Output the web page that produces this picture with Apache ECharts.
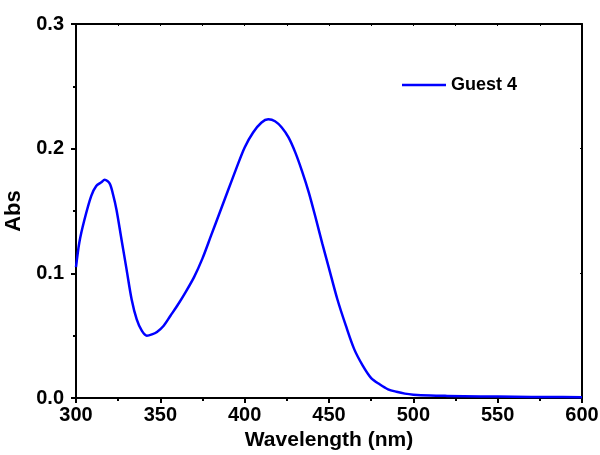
<!DOCTYPE html>
<html>
<head>
<meta charset="utf-8">
<script src="https://cdn.jsdelivr.net/npm/echarts@6/dist/echarts.min.js"></script>
<style>html,body{margin:0;padding:0;background:#fff}#c{width:600px;height:455px}</style>
</head>
<body>
<div id="c"></div>
<script>
var seriesName = 'Guest 4';
var wavelengths = [300,302,305,309,312,315,317,320,322,324,327,330,333,336,339,342,345,348,352,356,360,365,370,375,380,385,390,395,400,405,410,414,418,422,426,430,434,438,442,446,450,455,460,465,470,475,480,485,490,495,500,510,520,540,560,580,600];
var absorbance = [0.105,0.125,0.143,0.162,0.170,0.173,0.175,0.172,0.163,0.151,0.127,0.103,0.079,0.063,0.054,0.050,0.051,0.053,0.058,0.066,0.074,0.085,0.097,0.112,0.130,0.148,0.166,0.184,0.201,0.213,0.221,0.2235,0.222,0.217,0.209,0.197,0.182,0.165,0.145,0.124,0.104,0.079,0.058,0.039,0.026,0.016,0.011,0.007,0.005,0.0035,0.0027,0.002,0.0017,0.0013,0.001,0.0008,0.0006];
var xTicks = [300,350,400,450,500,550,600];
var yTicks = [0.0,0.1,0.2,0.3];

var data = wavelengths.map(function(w,i){return [w, absorbance[i]];});
var font = 'Liberation Sans, Arial, sans-serif';
var chart = echarts.init(document.getElementById('c'), null, {renderer:'canvas'});
var axisLine = {show:true, onZero:false, lineStyle:{color:'#000', width:2}};
chart.setOption({
  animation:false,
  grid:{left:76, right:18, top:24, bottom:57, containLabel:false, outerBoundsMode:'none'},
  legend:{
    data:[seriesName], left:397, top:71, icon:'rect', itemWidth:44, itemHeight:2.5, itemGap:0,
    textStyle:{fontFamily:font, fontWeight:'bold', fontSize:18, color:'#000'}
  },
  xAxis:[{
    type:'value', min:xTicks[0], max:xTicks[xTicks.length-1], interval:50,
    name:'Wavelength (nm)', nameLocation:'middle', nameGap:30,
    nameTextStyle:{fontFamily:font, fontWeight:'bold', fontSize:21, color:'#000'},
    axisLine:axisLine,
    axisTick:{show:true, inside:false, length:5, lineStyle:{color:'#000', width:2}},
    minorTick:{show:true, splitNumber:2, length:3, lineStyle:{color:'#000', width:2}},
    splitLine:{show:false},
    axisLabel:{fontFamily:font, fontWeight:'bold', fontSize:20, color:'#000', margin:7}
  },{
    type:'value', position:'top', min:xTicks[0], max:xTicks[xTicks.length-1], interval:50,
    axisLine:axisLine,
    axisTick:{show:true, inside:true, length:2, lineStyle:{color:'#000', width:1}},
    minorTick:{show:true, splitNumber:2, length:2, lineStyle:{color:'#000', width:1}},
    splitLine:{show:false}, axisLabel:{show:false}
  }],
  yAxis:[{
    type:'value', min:yTicks[0], max:yTicks[yTicks.length-1], interval:0.1,
    name:'Abs', nameLocation:'middle', nameGap:42, nameRotate:90,
    nameTextStyle:{fontFamily:font, fontWeight:'bold', fontSize:22, color:'#000'},
    axisLine:axisLine,
    axisTick:{show:true, inside:false, length:5, lineStyle:{color:'#000', width:2}},
    minorTick:{show:true, splitNumber:2, length:3, lineStyle:{color:'#000', width:2}},
    splitLine:{show:false},
    axisLabel:{fontFamily:font, fontWeight:'bold', fontSize:20, color:'#000', margin:12,
      formatter:function(v){return v.toFixed(1);}}
  },{
    type:'value', position:'right', min:yTicks[0], max:yTicks[yTicks.length-1], interval:0.1,
    axisLine:axisLine,
    axisTick:{show:true, inside:true, length:2, lineStyle:{color:'#000', width:1}},
    minorTick:{show:false},
    splitLine:{show:false}, axisLabel:{show:false}
  }],
  series:[{
    name:seriesName, type:'line', data:data, smooth:0.3, showSymbol:false, symbol:'none',
    lineStyle:{color:'#0000ff', width:2.5}, itemStyle:{color:'#0000ff'}, clip:true
  }]
});
</script>
</body>
</html>
